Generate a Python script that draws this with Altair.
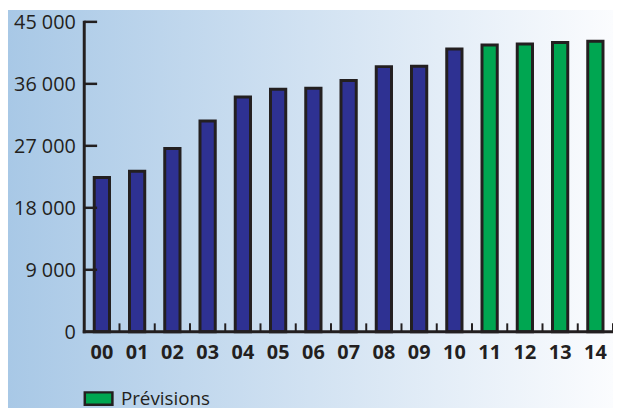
import altair as alt
import pandas as pd

# ---- data ----
years = ["00", "01", "02", "03", "04", "05", "06", "07", "08", "09", "10", "11", "12", "13", "14"]
values = [22400, 23300, 26600, 30600, 34100, 35200, 35350, 36500, 38500, 38550, 41050, 41650, 41800, 42000, 42200]
kinds = ["Réel"] * 11 + ["Prévisions"] * 4
y_ticks = [0, 9000, 18000, 27000, 36000, 45000]

df = pd.DataFrame({"year": years, "value": values, "kind": kinds})
ticks_df = pd.DataFrame({"v": y_ticks})

W, H = 534, 313
PAD = {"left": 77, "top": 12, "right": 0, "bottom": 77}
INK = "#231f20"
FONT = "Open Sans"

bg = alt.Chart(alt.Data(values=[{}])).mark_rect(
    fill=alt.Gradient(
        gradient="linear",
        stops=[alt.GradientStop(color="#a8c8e6", offset=0),
               alt.GradientStop(color="#fbfcfe", offset=1)],
        x1=0, x2=1, y1=0, y2=0,
    )
).encode(
    x=alt.value(-PAD["left"]), x2=alt.value(W + PAD["right"]),
    y=alt.value(-PAD["top"]), y2=alt.value(H + PAD["bottom"]),
)

bars = alt.Chart(df).mark_bar(stroke=INK, strokeWidth=3).encode(
    x=alt.X("year:N", sort=years,
            scale=alt.Scale(paddingInner=0.567, paddingOuter=0.2835),
            axis=alt.Axis(title=None, ticks=False, domain=False, tickSize=0,
                          labelAngle=0, labelFont=FONT, labelFontSize=20,
                          labelFontWeight=700, labelColor=INK, labelPadding=11,
                          zindex=2)),
    y=alt.Y("value:Q", scale=alt.Scale(domain=[0, 45000], nice=False),
            axis=alt.Axis(title=None, values=y_ticks, ticks=False, tickSize=0,
                          domain=False, grid=False, labelFont=FONT,
                          labelFontSize=20, labelColor=INK, labelPadding=9,
                          labelOffset=1, zindex=2,
                          labelExpr="replace(format(datum.value, ',d'), ',', ' ')")),
    color=alt.Color("kind:N",
                    scale=alt.Scale(domain=["Réel", "Prévisions"],
                                    range=["#2e3192", "#00a651"]),
                    legend=alt.Legend(title=None, values=["Prévisions"],
                                      orient="none", legendX=-2, legendY=364,
                                      padding=0,
                                      symbolType="M-0.93,-0.42H0.93V0.42H-0.93Z",
                                      symbolSize=900, symbolStrokeColor=INK,
                                      symbolStrokeWidth=2.5, symbolOpacity=1,
                                      labelFont=FONT, labelFontSize=19,
                                      labelColor=INK, labelOffset=6)),
)

y_line = alt.Chart(alt.Data(values=[{}])).mark_rule(color=INK, strokeWidth=3).encode(
    x=alt.value(0), y=alt.value(-1), y2=alt.value(H + 1.5)
)

y_tick_marks = alt.Chart(ticks_df).mark_rule(color=INK, strokeWidth=2.5).encode(
    x=alt.value(0), x2=alt.value(13), y=alt.Y("v:Q")
)

x_line = alt.Chart(alt.Data(values=[{}])).mark_rule(color=INK, strokeWidth=3).encode(
    x=alt.value(-1.5), x2=alt.value(W + 1), y=alt.value(H)
)

x_tick_marks = alt.Chart(df).mark_rule(color=INK, strokeWidth=2).encode(
    x=alt.X("year:N", sort=years, bandPosition=1,
            scale=alt.Scale(paddingInner=0, paddingOuter=0), axis=None),
    y=alt.value(H - 8.5), y2=alt.value(H),
)

chart = alt.layer(bg, bars, y_line, y_tick_marks, x_line, x_tick_marks).resolve_scale(
    x="independent"
).properties(
    width=W, height=H,
    autosize=alt.AutoSizeParams(type="none"),
    padding=PAD,
).configure_view(strokeWidth=0).configure(background="#ffffff")

chart.save("out.html", embed_options={"renderer": "svg", "actions": False})
